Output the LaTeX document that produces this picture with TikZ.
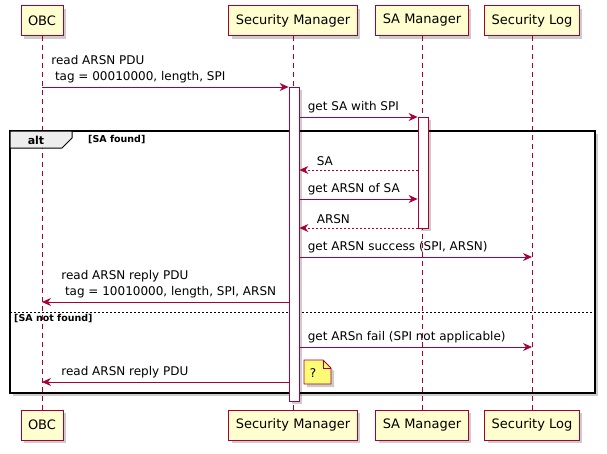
\documentclass[tikz,border=0pt]{standalone}
\usepackage{fontspec}
\setmainfont{DejaVu Sans}
\usetikzlibrary{arrows.meta,shadows}

\definecolor{umlred}{HTML}{A80036}
\definecolor{umlfill}{HTML}{FEFECE}
\definecolor{notefill}{HTML}{FBFB77}

\begin{document}
\begin{tikzpicture}[x=1pt,y=-1pt,
    umlshadow/.style={drop shadow={shadow xshift=3pt,shadow yshift=-3pt,fill=black,opacity=0.2}},
    actor/.style={draw=umlred,fill=umlfill,line width=1pt,minimum height=30pt,inner xsep=7pt,
      font=\fontsize{13}{15}\selectfont,umlshadow},
    life/.style={umlred,line width=0.7pt,dash pattern=on 5pt off 4pt},
    act/.style={draw=umlred,fill=white,line width=0.8pt,minimum width=10pt,inner sep=0pt,anchor=north,umlshadow},
    msg/.style={umlred,line width=0.8pt,-{Stealth[length=9pt,width=8pt,inset=3pt]}},
    reply/.style={msg,dash pattern=on 2pt off 2pt},
    lbl/.style={text=black,font=\fontsize{12}{16}\selectfont,align=left,inner sep=0pt},
    guard/.style={font=\bfseries\fontsize{9.5}{11}\selectfont,inner sep=0pt}]
  \fill[white] (0,0) rectangle (607,453);
  \useasboundingbox (0,0) rectangle (607,453);

  % alt frame (background + shadow)
  \fill[white,umlshadow] (10,131) rectangle (595,393);

  % participants
  \node[actor] (obcT) at (42,20.5) {OBC};
  \node[actor] (smT) at (293,20.5) {Security Manager};
  \node[actor] (samT) at (422,20.5) {SA Manager};
  \node[actor] (logT) at (532,20.5) {Security Log};
  \node[actor] (obcB) at (42,425) {OBC};
  \node[actor] (smB) at (293,425) {Security Manager};
  \node[actor] (samB) at (422,425) {SA Manager};
  \node[actor] (logB) at (532,425) {Security Log};
  \foreach \p in {obc,sm,sam,log}
    \draw[life] (\p T.south) -- (\p B.north);

  % alt frame
  \draw[line width=1.5pt] (10,131) rectangle (595,393);
  \draw[line width=1pt,fill=black!7] (10,131) -- (72,131) -- (72,138) -- (62,148) -- (10,148) -- cycle;
  \node[font=\bfseries\fontsize{11}{13}\selectfont] (altlbl) at (36,140) {alt};
  \node[guard,anchor=west] (found) at (88,140) {[SA found]};
  \draw[line width=0.7pt,dash pattern=on 2pt off 2pt] (10,312) -- (595,312);
  \node[guard,anchor=west] (notfound) at (14,319) {[SA not found]};

  % activations
  \node[act,minimum height=314pt] (smAct) at (294,87) {};
  \node[act,minimum height=111pt] (samAct) at (423,117) {};

  % messages
  \draw[msg] (obcT |- 0,87) -- (smAct.west |- 0,87)
    node[lbl,pos=0,anchor=south west,xshift=9pt,yshift=4pt] {read ARSN PDU\\\hspace*{0.3em}tag = 00010000, length, SPI};
  \draw[msg] (smAct.east |- 0,117) -- (samAct.west |- 0,117)
    node[lbl,pos=0,anchor=south west,xshift=8pt,yshift=4pt] {get SA with SPI};
  \draw[reply] (samAct.west |- 0,170) -- (smAct.east |- 0,170)
    node[lbl,pos=1,anchor=south west,xshift=17pt,yshift=4pt] {SA};
  \draw[msg] (smAct.east |- 0,199) -- (samAct.west |- 0,199)
    node[lbl,pos=0,anchor=south west,xshift=8pt,yshift=4pt] {get ARSN of SA};
  \draw[reply] (samAct.west |- 0,228) -- (smAct.east |- 0,228)
    node[lbl,pos=1,anchor=south west,xshift=17pt,yshift=4pt] {ARSN};
  \draw[msg] (smAct.east |- 0,257) -- (logT |- 0,257)
    node[lbl,pos=0,anchor=south west,xshift=8pt,yshift=4pt] {get ARSN success (SPI, ARSN)};
  \draw[msg] (smAct.west |- 0,302) -- (obcT |- 0,302)
    node[lbl,pos=1,anchor=south west,xshift=19pt,yshift=4pt] {read ARSN reply PDU\\\hspace*{0.3em}tag = 10010000, length, SPI, ARSN};
  \draw[msg] (smAct.east |- 0,347) -- (logT |- 0,347)
    node[lbl,pos=0,anchor=south west,xshift=8pt,yshift=4pt] {get ARSn fail (SPI not applicable)};
  \draw[msg] (smAct.west |- 0,382) -- (obcT |- 0,382)
    node[lbl,pos=1,anchor=south west,xshift=19pt,yshift=4pt] {read ARSN reply PDU};

  % note
  \draw[umlred,line width=0.8pt,fill=notefill,umlshadow] (304,360) -- (323,360) -- (331,368) -- (331,384) -- (304,384) -- cycle;
  \draw[umlred,line width=0.8pt] (323,360) -- (323,368) -- (331,368);
  \node[font=\fontsize{12}{14}\selectfont] (q) at (313,373) {?};
\end{tikzpicture}
\end{document}
